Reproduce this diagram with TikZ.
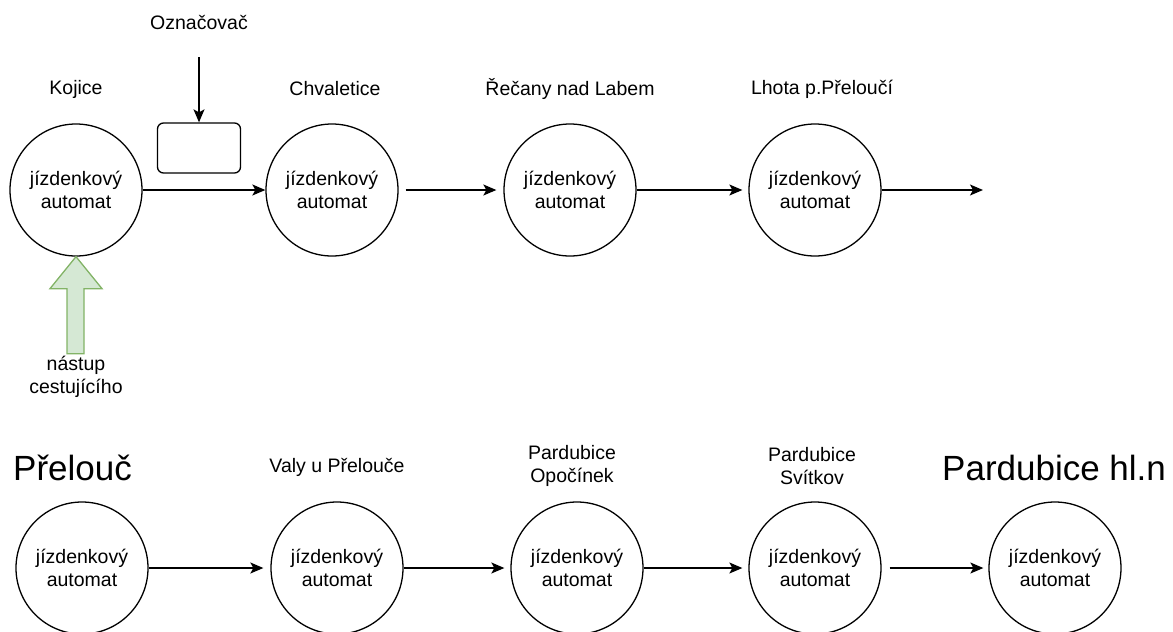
\documentclass[tikz,border=0pt]{standalone}
\usepackage{fontspec}
\setmainfont{Liberation Sans}
\usetikzlibrary{arrows.meta}
\definecolor{greenfill}{HTML}{D5E8D4}
\definecolor{greenline}{HTML}{82B366}
\begin{document}
\begin{tikzpicture}[x=1pt,y=-1pt,
  station/.style={circle,draw,line width=1.3pt,minimum size=132pt,inner sep=0pt,
    align=center,font=\fontsize{19.5}{23}\selectfont},
  lbl/.style={align=center,font=\fontsize{19.5}{23}\selectfont},
  biglbl/.style={anchor=west,inner sep=0pt,font=\fontsize{35}{40}\selectfont},
  flow/.style={line width=1.3pt,-{Stealth[length=13pt,width=11pt,inset=3pt]}}]
\useasboundingbox (0,0) rectangle (1173,632);

% upper line
\node[station] (kojice) at (76,190) {jízdenkový\\automat};
\node[station] (chval) at (332,190) {jízdenkový\\automat};
\node[station] (recany) at (570,190) {jízdenkový\\automat};
\node[station] (lhota) at (815,190) {jízdenkový\\automat};
\coordinate (out) at (983,190);

\node[lbl] (lkojice) at (76,89) {Kojice};
\node[lbl] (lchval) at (335,89) {Chvaletice};
\node[lbl] (lrecany) at (570,89) {Řečany nad Labem};
\node[lbl] (llhota) at (822,89) {Lhota p.Přeloučí};

\draw[flow] (kojice) -- (chval);
\draw[flow,shorten <=7pt,shorten >=7pt] (chval) -- (recany);
\draw[flow,shorten >=6pt] (recany) -- (lhota);
\draw[flow] (lhota) -- (out);

% validator
\node[draw,line width=1.3pt,rounded corners=6pt,minimum width=83pt,minimum height=50pt] (valid) at (199,148) {};
\node[lbl] (lvalid) at (199,22) {Označovač};
\coordinate (vin) at (199,57);
\draw[flow] (vin) -- (valid.north);

% boarding passenger
\node[lbl] (board) at (76,377) {nástup\\cestujícího};
\draw[line width=1.3pt,draw=greenline,fill=greenfill]
  (kojice.south) -- ++(26,32) -- ++(-18,0) -- ++(0,65) -- ++(-17,0) -- ++(0,-65) -- ++(-17,0) -- cycle;

% lower line
\node[station] (prelouc) at (82,568) {jízdenkový\\automat};
\node[station] (valy) at (337,568) {jízdenkový\\automat};
\node[station] (opoc) at (577,568) {jízdenkový\\automat};
\node[station] (svit) at (815,568) {jízdenkový\\automat};
\node[station] (pardhl) at (1055,568) {jízdenkový\\automat};

\node[biglbl] (lprelouc) at (13,468) {Přelouč};
\node[lbl] (lvaly) at (337,467) {Valy u Přelouče};
\node[lbl] (lopoc) at (572,466) {Pardubice\\Opočínek};
\node[lbl] (lsvit) at (812,466) {Pardubice\\Svítkov};
\node[biglbl] (lpardhl) at (942,468) {Pardubice hl.n};

\draw[flow,shorten >=7pt] (prelouc) -- (valy);
\draw[flow,shorten >=6pt] (valy) -- (opoc);
\draw[flow,shorten >=6pt] (opoc) -- (svit);
\draw[flow,shorten <=8pt,shorten >=5pt] (svit) -- (pardhl);
\end{tikzpicture}
\end{document}
